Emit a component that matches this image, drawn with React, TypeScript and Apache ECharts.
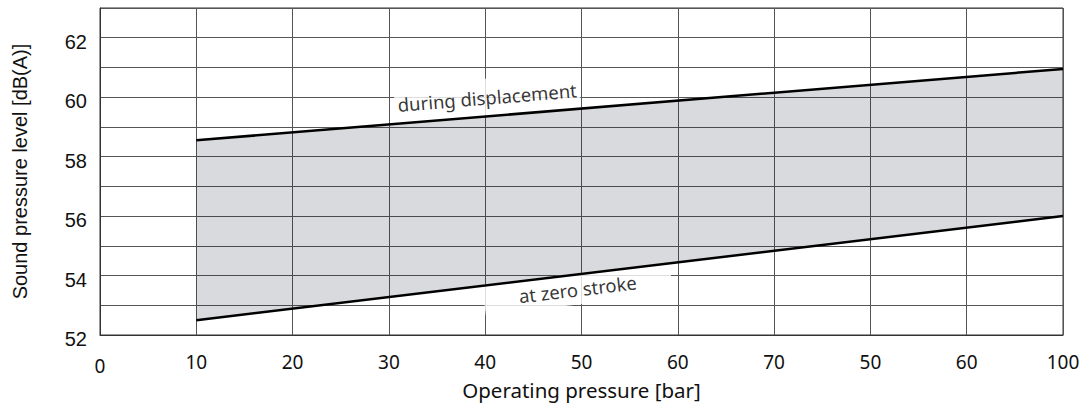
import React, { useEffect, useRef } from 'react';
import * as echarts from 'echarts';

// ---- data ----
const xTickLabels = ['0', '10', '20', '30', '40', '50', '60', '70', '50', '60', '100'];
const pressure = [10, 100];
const displacementLevel = [58.55, 60.95];
const zeroStrokeLevel = [52.5, 56.0];
const curveLabels = ['during displacement', 'at zero stroke'];
const curveLabelX = [40.2, 49.6];
const curveLabelY = [60.0, 53.55];
const curveLabelRotate = [4.7, 6.8];
const yMin = 52;
const yMax = 63;

const TICK_FONT = 'Noto Sans';
const Y_FONT = 'Liberation Sans';

export default function App() {
  const ref = useRef<HTMLDivElement>(null);

  useEffect(() => {
    if (!ref.current) return;
    const chart = echarts.init(ref.current, undefined, { renderer: 'svg' });

    const lowerPts = pressure.map((p, i) => [p, zeroStrokeLevel[i]]);
    const upperPts = pressure.map((p, i) => [p, displacementLevel[i]]);

    chart.setOption({
      animation: false,
      grid: {
        left: 100,
        right: 19,
        top: 8,
        bottom: 70,
        outerBoundsMode: 'none',
        containLabel: false,
        show: true,
        borderColor: '#333',
        borderWidth: 1,
        backgroundColor: 'transparent',
      },
      xAxis: {
        type: 'value',
        min: 0,
        max: 100,
        interval: 10,
        name: 'Operating pressure [bar]',
        nameLocation: 'middle',
        nameGap: 44,
        nameMoveOverlap: false,
        nameTextStyle: { fontFamily: TICK_FONT, fontSize: 20.5, color: '#111' },
        axisLine: { show: true, onZero: false, lineStyle: { color: '#333', width: 1 } },
        axisTick: { show: false },
        axisLabel: {
          margin: 17,
          fontFamily: TICK_FONT,
          fontSize: 19,
          color: '#111',
          formatter: (v: number) => {
            const i = Math.round(v / 10);
            return i === 0 ? '{low|' + xTickLabels[i] + '}' : xTickLabels[i];
          },
          rich: {
            low: { fontFamily: TICK_FONT, fontSize: 19, color: '#111', padding: [4, 0, 0, 0] },
          },
        },
        splitLine: { show: true, lineStyle: { color: '#555', width: 1 } },
      },
      yAxis: {
        type: 'value',
        min: yMin,
        max: yMax,
        interval: 1,
        name: 'Sound pressure level [dB(A)]',
        nameLocation: 'middle',
        nameGap: 70,
        nameMoveOverlap: false,
        nameTextStyle: { fontFamily: Y_FONT, fontSize: 20, color: '#111' },
        axisLine: { show: true, lineStyle: { color: '#333', width: 1 } },
        axisTick: { show: false },
        axisLabel: {
          margin: 13,
          color: '#111',
          formatter: (v: number) => (v % 2 === 0 && v < yMax ? '{t|' + v + '}' : ''),
          rich: {
            t: { fontFamily: Y_FONT, fontSize: 20, color: '#111', padding: [8, 0, 0, 0] },
          },
        },
        splitLine: { show: true, lineStyle: { color: '#555', width: 1 } },
      },
      series: [
        {
          type: 'custom',
          z: 1,
          silent: true,
          data: [0],
          renderItem: (_params: any, api: any) => {
            const pts = [
              ...upperPts.map((p) => api.coord(p)),
              ...lowerPts.slice().reverse().map((p) => api.coord(p)),
            ];
            return {
              type: 'polygon',
              shape: { points: pts },
              style: { fill: 'rgba(20,25,45,0.16)', stroke: 'none' },
            };
          },
        },
        {
          type: 'scatter',
          symbolSize: 0,
          z: 2,
          data: curveLabels.map((t, i) => ({
            value: [curveLabelX[i], curveLabelY[i]],
            label: {
              show: true,
              position: 'inside',
              formatter: t,
              rotate: curveLabelRotate[i],
              fontFamily: TICK_FONT,
              fontSize: 18.5,
              color: '#000',
              backgroundColor: '#fff',
              padding: i === 0 ? [6, 3, 12, 3] : [10, 35, 2, 35],
            },
          })),
        },
        {
          type: 'line',
          data: upperPts,
          symbol: 'none',
          lineStyle: { color: '#000', width: 2.5 },
          z: 5,
        },
        {
          type: 'line',
          data: lowerPts,
          symbol: 'none',
          lineStyle: { color: '#000', width: 2.5 },
          z: 5,
        },
      ],
    });

    return () => chart.dispose();
  }, []);

  return (
    <div
      ref={ref}
      style={{ position: 'fixed', left: 0, top: 0, width: 1082, height: 405, background: '#fff' }}
    />
  );
}
